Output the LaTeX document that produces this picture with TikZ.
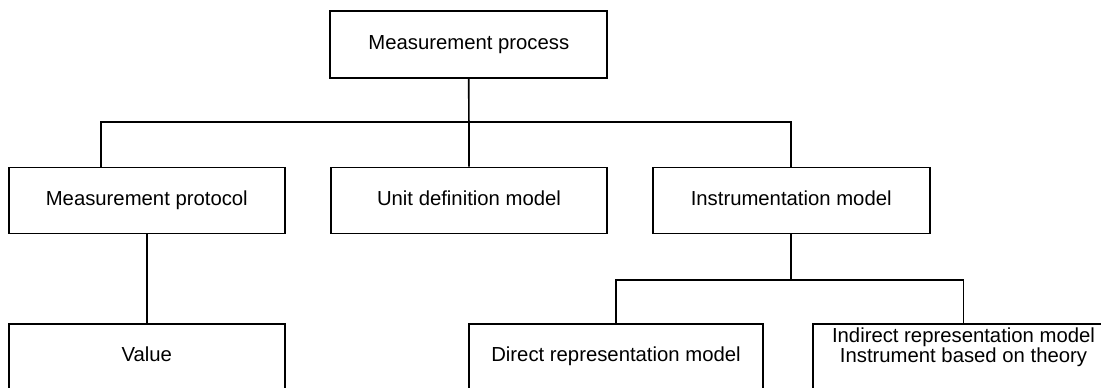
\documentclass[tikz,border=0pt]{standalone}
\usepackage{fontspec}
\setmainfont{Liberation Sans}
\begin{document}
\begin{tikzpicture}[x=1pt,y=-1pt,
  txt/.style={font=\fontsize{20.3}{19.8}\selectfont},
  box/.style={draw=black, line width=1.7pt, fill=white, inner sep=0pt, minimum height=66pt, align=center,
    txt, text height=14.6pt, text depth=4.2pt},
  conn/.style={draw=black, line width=1.7pt, line join=miter}]
\useasboundingbox (0,0) rectangle (1101,388);
% nodes
\node[box, minimum width=277pt, minimum height=66.7pt] (top) at (468.8,44.3) {Measurement process};
\node[box, minimum width=276pt] (mp) at (146.8,200.5) {Measurement protocol};
\node[box, minimum width=276.5pt] (unit) at (469,200.5) {Unit definition model};
\node[box, minimum width=277pt] (instr) at (791.2,200.5) {Instrumentation model};
\node[box, minimum width=276pt] (value) at (146.8,356.7) {Value};
\node[box, minimum width=294.5pt] (direct) at (616,356.7) {Direct representation model};
\node[box, minimum width=300.5pt] (ind) at (963.5,356.7) {};
\node[align=center, inner sep=0pt, txt] (indtext) at (963.5,347.2)
  {Indirect representation model\\Instrument based on theory};
% bus coordinates
\coordinate (b1) at (101,121.7);
\coordinate (b2) at (791.2,121.7);
\coordinate (c2) at (791.2,279.8);
% connectors
\draw[conn] (top.south) -- (unit.north);
\draw[conn] (b1 |- mp.north) -- (b1) -- (b2) -- (instr.north);
\draw[conn] (mp.south) -- (value.north);
\draw[conn] (instr.south) -- (c2);
\draw[conn] (direct.north) -- (direct.north |- c2) -- (ind.north |- c2) -- (ind.north);
\end{tikzpicture}
\end{document}
